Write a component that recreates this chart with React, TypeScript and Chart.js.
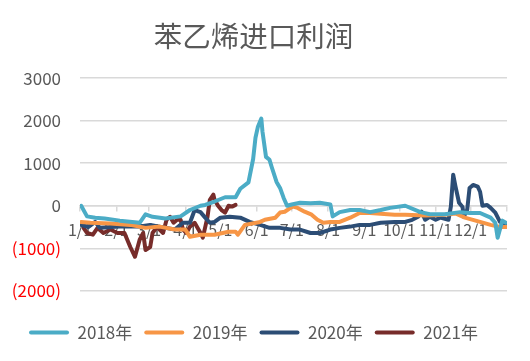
import React, { useEffect, useRef } from "react";
import { Chart, registerables } from "chart.js";

Chart.register(...registerables);

const TITLE = "苯乙烯进口利润";
const MONTH_DAYS = [0, 31, 59, 90, 120, 151, 181, 212, 243, 273, 304, 334, 365];
const MONTH_LABELS = ["1/1", "2/1", "3/1", "4/1", "5/1", "6/1", "7/1", "8/1", "9/1", "10/1", "11/1", "12/1", ""];
const Y_TICKS = [-2000, -1000, 0, 1000, 2000, 3000];

const SERIES_NAMES = ["2018年", "2019年", "2020年", "2021年"];
const SERIES_COLORS = ["#4BACC6", "#F79646", "#2C4D75", "#772C2A"];

const days2018 = [1, 6, 13, 21, 34, 51, 56, 62, 73, 86, 94, 103, 107, 115, 124, 133, 137, 144, 148, 150, 152, 155, 156, 159, 162, 164, 168, 171, 174, 177, 181, 188, 197, 205, 214, 216, 222, 231, 239, 248, 257, 265, 278, 291, 299, 312, 325, 333, 342, 351, 355, 357, 361, 364];
const vals2018 = [0, -250, -280, -300, -350, -400, -200, -260, -300, -250, -100, 0, 20, 100, 200, 200, 400, 550, 1100, 1600, 1850, 2050, 1740, 1150, 1080, 900, 560, 420, 190, 0, 30, 70, 60, 70, 30, -250, -150, -100, -100, -150, -100, -50, 0, -150, -200, -200, -150, -170, -170, -280, -400, -750, -350, -400];

const days2019 = [1, 9, 26, 43, 56, 68, 81, 90, 94, 103, 115, 127, 133, 135, 141, 154, 158, 167, 171, 175, 180, 182, 186, 192, 198, 203, 208, 214, 222, 231, 239, 248, 257, 269, 278, 295, 312, 321, 329, 342, 351, 359, 365];
const vals2019 = [-380, -400, -420, -450, -520, -490, -560, -560, -730, -680, -680, -610, -610, -680, -450, -380, -330, -280, -160, -140, -50, -20, -50, -140, -210, -330, -400, -380, -380, -280, -170, -170, -190, -210, -210, -230, -210, -180, -280, -380, -450, -500, -500];

const days2020 = [1, 7, 13, 17, 34, 51, 60, 68, 81, 88, 94, 98, 103, 107, 111, 115, 120, 128, 137, 145, 154, 162, 171, 180, 188, 197, 205, 214, 222, 231, 239, 248, 257, 269, 278, 284, 289, 292, 295, 299, 304, 308, 315, 317, 319, 321, 324, 327, 328, 331, 333, 336, 340, 342, 344, 348, 351, 355, 359, 363, 365];
const vals2020 = [-450, -500, -380, -520, -490, -490, -450, -490, -560, -400, -400, -100, -150, -280, -400, -380, -280, -260, -280, -380, -450, -520, -520, -560, -560, -640, -640, -560, -520, -490, -450, -450, -400, -380, -380, -330, -260, -140, -330, -260, -330, -280, -330, -20, 730, 450, 70, -30, -260, -90, 420, 490, 450, 330, 0, 20, -50, -160, -380, -450, -420];

const days2021 = [3, 6, 11, 15, 20, 26, 32, 38, 43, 47, 51, 54, 56, 60, 62, 66, 68, 71, 74, 77, 80, 83, 86, 88, 91, 94, 98, 103, 105, 109, 111, 114, 115, 118, 121, 124, 127, 130, 133];
const vals2021 = [-520, -640, -680, -520, -640, -560, -640, -640, -970, -1200, -800, -640, -1040, -970, -640, -490, -560, -640, -330, -260, -400, -330, -330, -560, -640, -490, -400, -640, -750, -260, 140, 260, 140, 0, -100, -160, 0, -20, 20];

const SERIES_DAYS = [days2018, days2019, days2020, days2021];
const SERIES_VALS = [vals2018, vals2019, vals2020, vals2021];

const FONT = "'Noto Sans CJK SC', 'Noto Sans', sans-serif";
const GREY = "#595959";
const GRID = "#D9D9D9";

export default function App() {
  const ref = useRef<HTMLCanvasElement>(null);
  useEffect(() => {
    if (!ref.current) return;
    const datasets = SERIES_NAMES.map((name, i) => ({
      label: name,
      data: SERIES_DAYS[i].map((d, j) => ({ x: d, y: SERIES_VALS[i][j] })),
      borderColor: SERIES_COLORS[i],
      backgroundColor: SERIES_COLORS[i],
      borderWidth: 4,
      pointRadius: 0,
      tension: 0,
      borderJoinStyle: "round" as const,
      borderCapStyle: "round" as const,
    }));
    const chart = new Chart(ref.current, {
      type: "line",
      data: { datasets },
      options: {
        animation: false,
        responsive: false,
        layout: { padding: { left: 0, right: 23, top: 0, bottom: 10 } },
        plugins: {
          title: {
            display: true,
            text: TITLE,
            color: GREY,
            font: { family: FONT, size: 28.5, weight: "normal" },
            padding: { top: 19, bottom: 25 },
          },
          legend: {
            position: "bottom",
            title: { display: true, text: "", font: { size: 1 }, padding: { top: 20, bottom: 0 } },
            labels: {
              color: GREY,
              font: { family: FONT, size: 17 },
              boxWidth: 40,
              boxHeight: 4,
              padding: 12,
              useBorderRadius: true,
              borderRadius: 2,
              generateLabels: (c: any) => {
                const items = Chart.defaults.plugins.legend.labels.generateLabels(c);
                return items.map((it: any) => ({ ...it, lineWidth: 0 }));
              },
            },
          },
          tooltip: { enabled: false },
        },
        scales: {
          x: {
            type: "linear",
            position: { y: 0 },
            min: 0,
            max: 365,
            afterBuildTicks: (scale: any) => {
              scale.ticks = MONTH_DAYS.map((v) => ({ value: v }));
            },
            ticks: {
              autoSkip: false,
              maxRotation: 0,
              minRotation: 0,
              padding: 10,
              color: GREY,
              font: { family: FONT, size: 16 },
              callback: (v: any) => {
                const idx = MONTH_DAYS.indexOf(Number(v));
                return idx >= 0 ? MONTH_LABELS[idx] : "";
              },
            },
            grid: {
              drawOnChartArea: false,
              drawTicks: true,
              tickLength: 5,
              color: GRID,
              lineWidth: 1.5,
            },
            border: { display: true, color: GRID, width: 1.5 },
          },
          y: {
            min: -2000,
            max: 3000,
            afterBuildTicks: (scale: any) => {
              scale.ticks = Y_TICKS.map((v) => ({ value: v }));
            },
            afterFit: (scale: any) => {
              scale.width = 80;
            },
            ticks: {
              padding: 19,
              color: (ctx: any) => (ctx.tick && ctx.tick.value < 0 ? "#FF0000" : GREY),
              font: { family: FONT, size: 17 },
              callback: (v: any) => {
                const n = Number(v);
                return n < 0 ? `(${Math.abs(n)})` : String(n);
              },
            },
            grid: { drawTicks: false, color: GRID, lineWidth: 1.5 },
            border: { display: false },
          },
        },
      },
    });
    return () => chart.destroy();
  }, []);
  return (
    <div style={{ position: "fixed", left: 0, top: 0, width: 530, height: 361, background: "#fff" }}>
      <canvas ref={ref} width={530} height={361} />
    </div>
  );
}
